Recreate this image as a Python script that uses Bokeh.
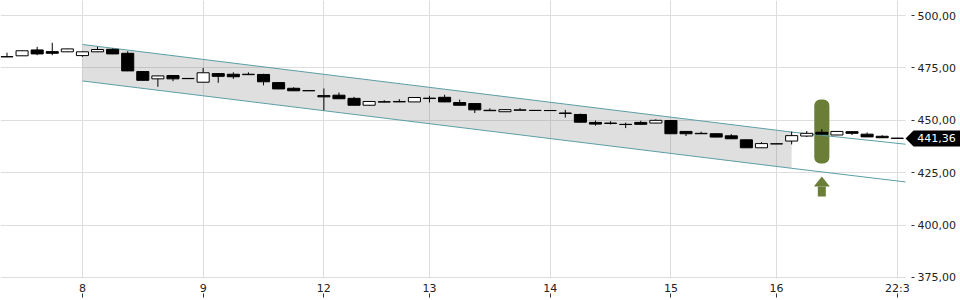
from bokeh.plotting import figure
from bokeh.models import FixedTicker, Range1d, ColumnDataSource
from bokeh.core.properties import value
from bokeh.embed import file_html
from bokeh.resources import INLINE

# ---- data ----
opens = [480.3, 480.8, 483.6, 482.8, 482.7, 480.9, 482.7, 483.9, 482.0, 473.3,
         469.8, 471.4, 469.9, 468.2, 472.3, 472.0, 471.8, 471.9, 468.0, 465.3,
         464.1, 461.8, 462.0, 460.5, 457.2, 458.7, 458.8, 458.8, 460.4, 461.0,
         458.5, 458.0, 454.6, 454.1, 454.8, 454.7, 454.65, 453.5, 452.8, 449.0,
         448.5, 448.1, 449.0, 448.7, 449.9, 444.7, 443.6, 443.6, 442.6, 440.7,
         436.9, 438.75, 440.1, 442.5, 444.3, 443.0, 444.6, 443.4, 442.4, 441.5]
highs = [482.3, 483.3, 485.1, 487.0, 484.2, 483.0, 485.1, 484.3, 483.0, 473.4,
         471.3, 471.5, 470.0, 475.0, 472.4, 472.9, 472.9, 472.2, 468.1, 465.8,
         464.2, 465.2, 463.3, 461.2, 459.1, 459.6, 460.1, 461.0, 461.7, 462.2,
         459.9, 458.1, 455.7, 455.2, 455.8, 454.8, 454.8, 455.0, 453.2, 449.9,
         449.6, 448.9, 449.8, 450.5, 450.0, 444.8, 444.6, 443.7, 443.4, 440.8,
         439.6, 438.9, 444.6, 444.9, 445.8, 444.8, 444.7, 444.2, 442.9, 441.6]
lows = [480.2, 480.7, 481.1, 481.1, 482.6, 480.3, 482.6, 481.6, 473.5, 469.0,
        466.0, 468.7, 469.8, 468.1, 467.9, 469.8, 471.7, 466.7, 464.9, 464.0,
        464.0, 454.8, 460.2, 457.1, 457.1, 458.6, 458.7, 458.7, 458.5, 458.7,
        457.1, 453.5, 454.5, 454.0, 454.7, 454.6, 454.6, 451.3, 449.0, 447.5,
        448.0, 446.3, 448.0, 448.6, 443.5, 442.5, 443.5, 441.9, 441.1, 436.8,
        436.8, 438.7, 438.5, 442.0, 443.2, 442.9, 443.0, 442.0, 441.6, 441.3]
closes = [480.4, 483.2, 481.7, 482.0, 484.1, 482.7, 483.8, 481.7, 473.6, 469.1,
          471.2, 469.8, 470.0, 472.7, 471.0, 470.8, 472.0, 468.4, 465.0, 464.1,
          464.2, 461.2, 460.3, 457.2, 459.0, 458.9, 459.0, 460.9, 460.6, 458.8,
          457.2, 455.0, 454.8, 455.1, 455.0, 454.75, 454.7, 453.3, 449.1, 448.2,
          448.7, 448.0, 448.1, 450.0, 443.6, 443.6, 443.8, 442.0, 441.2, 436.9,
          438.9, 438.8, 442.7, 443.8, 443.4, 444.7, 443.8, 442.1, 441.7, 441.36]

x_tick_index = [5, 13, 21, 28, 36, 44, 51, 59]
x_tick_labels = ["8", "9", "12", "13", "14", "15", "16", "22:3"]
y_ticks = [375, 400, 425, 450, 475, 500]
y_tick_labels = ["375,00", "400,00", "425,00", "450,00", "475,00", "500,00"]

channel_x = [5, 52, 59.55]
channel_upper = [486.2, 444.4, 438.6]
channel_lower = [468.8, 427.1, 420.6]

last_price = 441.36
last_price_label = "441,36"

marker_index = 54
marker_top = 459.9
marker_bottom = 429.4
arrow_tip = 423.2
arrow_base = 418.4
arrow_bottom = 413.6

# ---- layout constants ----
X_START, X_PLOT_END, X_CANVAS_END = -0.43, 59.55, 63.19
Y_CANVAS_START, Y_PLOT_START, Y_END = 364.0, 374.5, 507.2

FONT = "DejaVu Sans"
p = figure(frame_width=960, frame_height=300,
           x_range=Range1d(X_START, X_CANVAS_END), y_range=Range1d(Y_CANVAS_START, Y_END),
           y_axis_location="right", output_backend="svg", toolbar_location=None,
           min_border_left=0, min_border_top=0, min_border_right=0, min_border_bottom=0,
           background_fill_color="white", border_fill_color="white",
           outline_line_color=None)

p.xgrid.ticker = FixedTicker(ticks=x_tick_index)
p.ygrid.ticker = FixedTicker(ticks=y_ticks)
p.xgrid.grid_line_color = "#dddddd"
p.ygrid.grid_line_color = "#dddddd"

xa = p.xaxis[0]
xa.fixed_location = Y_PLOT_START
xa.ticker = FixedTicker(ticks=x_tick_index)
xa.major_label_overrides = {i: l for i, l in zip(x_tick_index, x_tick_labels)}
xa.major_tick_in = -15
xa.major_tick_out = 19
xa.major_tick_line_color = "#333333"
xa.minor_tick_line_color = None
xa.axis_line_color = None
xa.major_label_standoff = -16
xa.major_label_text_font = FONT
xa.major_label_text_font_size = "11px"
xa.major_label_text_color = "#222222"

ya = p.yaxis[0]
ya.fixed_location = X_PLOT_END
ya.ticker = FixedTicker(ticks=y_ticks)
ya.major_label_overrides = {v: l for v, l in zip(y_ticks, y_tick_labels)}
ya.major_tick_in = -6
ya.major_tick_out = 9
ya.major_tick_line_color = "#333333"
ya.minor_tick_line_color = None
ya.axis_line_color = None
ya.major_label_standoff = 3
ya.major_label_text_font = FONT
ya.major_label_text_font_size = "11px"
ya.major_label_text_color = "#222222"

# white masks for the scale strips (grid stops at the plot edges)
p.quad(left=[X_PLOT_END, X_START], right=[X_CANVAS_END, X_CANVAS_END],
       bottom=[Y_CANVAS_START, Y_CANVAS_START], top=[Y_END, Y_PLOT_START],
       fill_color="white", line_color=None)

# channel shading
p.varea(x=channel_x[:2], y1=channel_lower[:2], y2=channel_upper[:2],
        fill_color="#808080", fill_alpha=0.25)

# green marker
p.rect(x=[marker_index], y=[(marker_top + marker_bottom) / 2], width=1.0,
       height=marker_top - marker_bottom, fill_color="#6a7e38", line_color=None,
       border_radius=6)

# channel lines
p.line(channel_x, channel_upper, line_color="#5b9ea5", line_width=1)
p.line(channel_x, channel_lower, line_color="#5b9ea5", line_width=1)

# candles
idx = list(range(len(opens)))
src = ColumnDataSource(dict(
    x=idx, o=opens, h=highs, l=lows, c=closes,
    top=[max(o, c) for o, c in zip(opens, closes)],
    bottom=[min(o, c) for o, c in zip(opens, closes)],
    fill=["white" if c >= o else "black" for o, c in zip(opens, closes)],
))
p.segment(x0="x", y0="l", x1="x", y1="h", source=src, line_color="black", line_width=1)
p.vbar(x="x", width=0.8, top="top", bottom="bottom", source=src,
       fill_color="fill", line_color="black", line_width=1)

# arrow
p.patch([marker_index - 0.53, marker_index, marker_index + 0.53],
        [arrow_base, arrow_tip, arrow_base], fill_color="#6a7e38", line_color=None)
p.vbar(x=[marker_index], width=0.53, top=[arrow_base], bottom=[arrow_bottom],
       fill_color="#6a7e38", line_color=None)

# last-price tag on the price scale
half = 3.82
notch = X_PLOT_END + 0.53
p.patch([X_PLOT_END, notch, X_CANVAS_END, X_CANVAS_END, notch],
        [last_price, last_price + half, last_price + half,
         last_price - half, last_price - half],
        fill_color="black", line_color=None)
p.text(x=[X_PLOT_END + 0.78], y=[last_price], text=[last_price_label],
       text_color="white", text_font=value(FONT), text_font_size="11px",
       text_baseline="middle", text_align="left")

open("out.html", "w").write(file_html(p, INLINE))
